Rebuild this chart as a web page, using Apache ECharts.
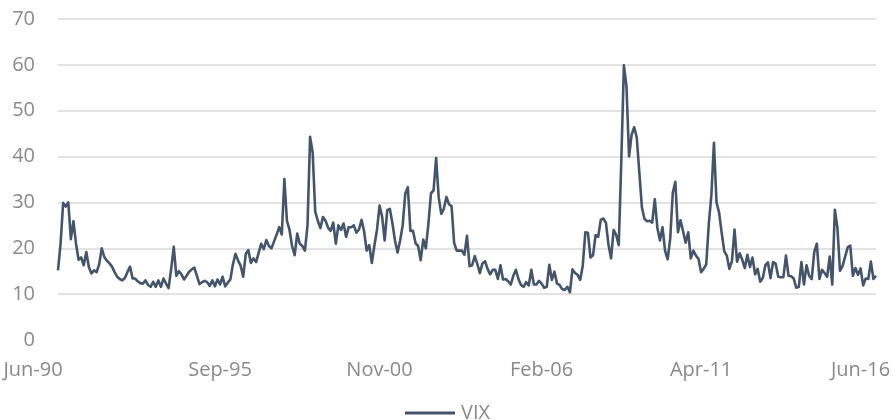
<!DOCTYPE html>
<html>
<head>
<meta charset="utf-8">
<title>VIX</title>
<script src="https://cdn.jsdelivr.net/npm/echarts@6/dist/echarts.min.js"></script>
<style>
  html, body { margin: 0; padding: 0; background: #ffffff; }
  #chart { width: 895px; height: 420px; }
</style>
</head>
<body>
<div id="chart"></div>
<script>
// Month-end VIX closes, one value per month starting Jun 1990
const startYear = 1990;
const startMonth = 5; // June (0-based)

const vix = [
  // 1990 (Jun-Dec)
  15.2, 21.0, 29.9, 29.1, 30.0, 22.0, 25.9,
  // 1991
  21.0, 17.5, 18.0, 16.3, 19.2, 15.9, 14.5, 15.2, 14.8, 16.5, 20.0, 18.1,
  // 1992
  17.3, 16.7, 16.0, 14.8, 13.8, 13.3, 13.0, 13.5, 14.8, 16.0, 13.4, 13.4,
  // 1993
  12.8, 12.4, 12.3, 13.0, 12.0, 11.6, 12.7, 11.6, 13.0, 11.6, 13.4, 12.3,
  // 1994
  11.3, 15.5, 20.3, 14.0, 15.0, 14.3, 13.2, 14.0, 14.9, 15.4, 15.8, 14.0,
  // 1995
  12.2, 12.6, 12.9, 12.6, 11.8, 13.0, 11.7, 13.2, 12.1, 13.8, 11.7, 12.5,
  // 1996
  13.2, 16.5, 18.8, 17.3, 16.2, 13.8, 18.8, 19.6, 16.8, 17.8, 17.0, 19.0,
  // 1997
  21.0, 19.8, 21.8, 20.5, 20.0, 21.5, 23.0, 24.6, 23.0, 35.1, 26.0, 24.0,
  // 1998
  20.5, 18.5, 23.2, 21.0, 20.5, 19.5, 25.0, 44.3, 40.9, 28.0, 26.0, 24.4,
  // 1999
  26.8, 26.0, 24.5, 23.8, 25.6, 21.0, 25.0, 24.0, 25.4, 22.5, 24.6, 24.6,
  // 2000
  25.0, 23.4, 24.1, 26.2, 23.7, 19.5, 20.7, 16.8, 20.6, 24.0, 29.3, 26.9,
  // 2001
  21.7, 28.3, 28.6, 25.5, 21.7, 19.1, 21.7, 25.0, 31.9, 33.3, 23.8, 23.8,
  // 2002
  21.1, 20.5, 17.4, 21.9, 20.0, 25.4, 32.0, 32.6, 39.7, 31.1, 27.5, 28.6,
  // 2003
  31.2, 29.6, 29.2, 21.2, 19.5, 19.5, 19.5, 18.6, 22.7, 16.1, 16.3, 18.3,
  // 2004
  16.6, 14.6, 16.7, 17.2, 15.5, 14.3, 15.3, 15.3, 13.3, 16.3, 13.2, 13.3,
  // 2005
  12.8, 12.1, 14.0, 15.3, 13.3, 12.0, 11.6, 12.6, 11.9, 15.3, 12.1, 12.1,
  // 2006
  12.9, 12.3, 11.4, 11.6, 16.4, 13.1, 14.9, 12.3, 12.0, 11.1, 10.9, 11.6,
  // 2007
  10.4, 15.4, 14.6, 14.2, 13.1, 16.2, 23.5, 23.4, 18.0, 18.5, 22.9, 22.5,
  // 2008
  26.2, 26.5, 25.6, 20.8, 17.8, 24.0, 22.9, 20.7, 39.4, 59.9, 55.3, 40.0,
  // 2009
  44.8, 46.4, 44.1, 36.5, 28.9, 26.4, 25.9, 26.0, 25.6, 30.7, 24.5, 21.7,
  // 2010
  24.6, 19.5, 17.6, 22.1, 32.1, 34.5, 23.5, 26.1, 23.7, 21.2, 23.5, 17.8,
  // 2011
  19.5, 18.4, 17.7, 14.8, 15.5, 16.5, 25.3, 31.6, 43.0, 30.0, 27.8, 23.4,
  // 2012
  19.4, 18.4, 15.5, 17.2, 24.1, 17.1, 18.9, 17.5, 15.7, 18.6, 15.9, 18.0,
  // 2013
  14.3, 15.5, 12.7, 13.5, 16.3, 16.9, 13.5, 17.0, 16.6, 13.8, 13.7, 13.7,
  // 2014
  18.4, 14.0, 13.9, 13.4, 11.4, 11.6, 17.0, 12.1, 16.3, 14.0, 13.3, 19.2,
  // 2015
  21.0, 13.3, 15.3, 14.6, 13.8, 18.2, 12.1, 28.4, 24.5, 15.1, 16.1, 18.2,
  // 2016
  20.2, 20.6, 14.0, 15.7, 14.2, 15.6, 11.9, 13.4, 13.3, 17.1, 13.3, 14.0
];

// Category labels on the time axis that are actually printed
const xTickLabels = ['Jun-90', 'Sep-95', 'Nov-00', 'Feb-06', 'Apr-11', 'Jun-16'];

// Value axis ticks
const yMin = 0;
const yMax = 70;
const yStep = 10;

const seriesName = 'VIX';

// Build "Mon-YY" category names, one per data point
const monthNames = ['Jan', 'Feb', 'Mar', 'Apr', 'May', 'Jun',
                    'Jul', 'Aug', 'Sep', 'Oct', 'Nov', 'Dec'];
const months = vix.map((_, i) => {
  const m = startMonth + i;
  const y = startYear + Math.floor(m / 12);
  return monthNames[m % 12] + '-' + String(y % 100).padStart(2, '0');
});

const labelColor = '#898989';
const fontFamily = '"Open Sans", "Noto Sans", sans-serif';

// First split line (the zero level) stays hidden, the rest are light grey
const gridColors = [];
for (let v = yMin; v <= yMax; v += yStep) {
  gridColors.push(v === yMin ? 'rgba(0,0,0,0)' : '#d9d9d9');
}

const chart = echarts.init(document.getElementById('chart'), null, { renderer: 'canvas' });

chart.setOption({
  backgroundColor: '#ffffff',
  animation: false,
  grid: { left: 58, right: 19, top: 19, bottom: 80, containLabel: false },
  legend: {
    data: [seriesName],
    left: 'center',
    top: 398,
    icon: 'rect',
    itemWidth: 50,
    itemHeight: 3,
    itemGap: 10,
    textStyle: { color: labelColor, fontSize: 20, fontFamily: fontFamily, padding: [0, 0, 0, 1] }
  },
  xAxis: {
    type: 'category',
    data: months,
    boundaryGap: false,
    axisLine: { show: false },
    axisTick: { show: false },
    splitLine: { show: false },
    axisLabel: {
      interval: (index, value) => xTickLabels.includes(value),
      margin: 20,
      color: labelColor,
      fontSize: 20,
      fontFamily: fontFamily,
      formatter: (value, index) => index === 0 ? '{first|' + value + '}' : value,
      rich: {
        first: { color: labelColor, fontSize: 20, fontFamily: fontFamily, padding: [0, 50, 0, 0] }
      }
    }
  },
  yAxis: {
    type: 'value',
    min: yMin,
    max: yMax,
    interval: yStep,
    axisLine: { show: false },
    axisTick: { show: false },
    axisLabel: {
      margin: 23,
      color: labelColor,
      fontSize: 20,
      fontFamily: fontFamily
    },
    splitLine: { show: true, lineStyle: { color: gridColors, width: 1.5 } }
  },
  series: [{
    name: seriesName,
    type: 'line',
    data: vix,
    showSymbol: false,
    symbol: 'none',
    smooth: false,
    lineStyle: { color: '#44546a', width: 2.6, join: 'round' },
    itemStyle: { color: '#44546a' }
  }]
});
</script>
</body>
</html>
